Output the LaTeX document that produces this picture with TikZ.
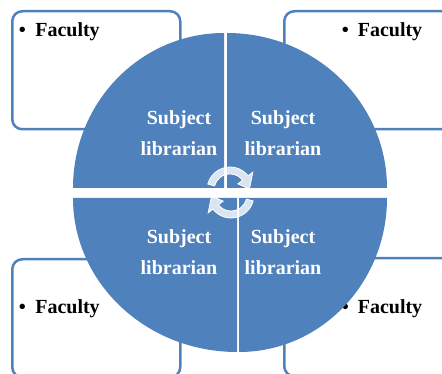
\documentclass[tikz,border=0pt]{standalone}
\usepackage{fontspec}
\setmainfont{Liberation Serif}
\definecolor{sec}{HTML}{4F81BD}
\definecolor{boxline}{HTML}{4F81BD}
\begin{document}
\begin{tikzpicture}[x=1pt,y=-1pt,
  facbox/.style={draw=boxline, line width=2.5pt, fill=white, rounded corners=10pt, minimum width=168pt, minimum height=118pt, anchor=north west, inner sep=0pt},
  sector/.style={fill=sec},
  subj/.style={text=white, font=\bfseries\fontsize{20}{31}\selectfont, align=center, inner sep=0pt},
  fac/.style={font=\bfseries\fontsize{20}{23}\selectfont, anchor=base west, inner sep=0pt},
  cyc/.style={fill=white, fill opacity=0.8, draw=white, line width=0.8pt}]
\useasboundingbox (0,0) rectangle (442,374);
\clip (0,0) rectangle (442,374);
% outer boxes
\node[facbox] (b1) at (11,10) {};
\node[facbox] (b2) at (283,10) {};
\node[facbox] (b3) at (11,258) {};
\node[facbox] (b4) at (283,257) {};
\node[fac] (f1) at (18.6,37) {\textbullet\hspace{9.5pt}Faculty};
\node[fac] (f2) at (341.6,37) {\textbullet\hspace{9pt}Faculty};
\node[fac] (f3) at (18.6,313) {\textbullet\hspace{9.5pt}Faculty};
\node[fac] (f4) at (341.6,313) {\textbullet\hspace{9pt}Faculty};
% sectors
\fill[sector] (224,188) -- (73,188) arc[start angle=180,end angle=270,x radius=151,y radius=155] -- cycle;
\fill[sector] (227,188) -- (227,33) arc[start angle=270,end angle=360,x radius=160,y radius=155] -- cycle;
\fill[sector] (237,198) -- (73,198) arc[start angle=180,end angle=90,x radius=164,y radius=154] -- cycle;
\fill[sector] (239,198) -- (387,198) arc[start angle=0,end angle=90,x radius=148,y radius=154] -- cycle;
% labels
\node[subj] (s1) at (179,133) {Subject\\librarian};
\node[subj] (s2) at (283,133) {Subject\\librarian};
\node[subj] (s3) at (179,252) {Subject\\librarian};
\node[subj] (s4) at (283,252) {Subject\\librarian};
% cycle arrows
\begin{scope}[shift={(230,190)}]
\path[cyc] (-165:23) arc[start angle=-165,end angle=-38,radius=23] -- (-38:29) -- (-3:19.5) -- (-38:10) -- (-38:16) arc[start angle=-38,end angle=-165,radius=16] -- cycle;
\end{scope}
\begin{scope}[shift={(231,195)}]
\path[cyc] (15:23) arc[start angle=15,end angle=142,radius=23] -- (142:29) -- (177:19.5) -- (142:10) -- (142:16) arc[start angle=142,end angle=15,radius=16] -- cycle;
\end{scope}
\end{tikzpicture}
\end{document}
